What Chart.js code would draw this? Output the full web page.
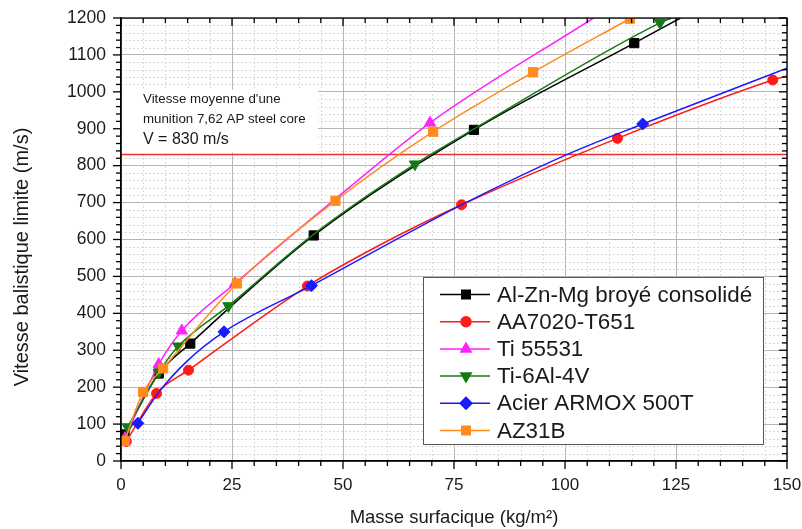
<!DOCTYPE html>
<html>
<head>
<meta charset="utf-8">
<script src="https://cdn.jsdelivr.net/npm/chart.js@4.4.0/dist/chart.umd.min.js"></script>
<style>
  body { margin: 0; background: #fff; }
  #chart { display: block; }
</style>
</head>
<body>
<canvas id="chart" width="802" height="529"></canvas>
<script>
// values: masse surfacique (kg/m²) -> vitesse limite (m/s)
// *Mass/*Speed = measured points (markers), *CurveMass/*CurveSpeed = extra points on the fitted curve
const alznmgMass = [0.8, 8.5, 15.6, 43.4, 79.5, 115.6];
const alznmgSpeed = [72, 237, 318, 611, 897, 1132];
const alznmgCurveMass = [126];
const alznmgCurveSpeed = [1200];

const aa7020Mass = [1.2, 8.0, 15.2, 42.0, 76.7, 111.8, 146.8];
const aa7020Speed = [53, 183, 246, 474, 694, 874, 1032];
const aa7020CurveMass = [58.3, 150];
const aa7020CurveSpeed = [585, 1043];

const ti55531Mass = [0.9, 8.5, 13.7, 25.7, 69.6];
const ti55531Speed = [62, 262, 353, 481, 916];
const ti55531CurveMass = [50, 106.4];
const ti55531CurveSpeed = [727, 1200];

const ti64Mass = [1.5, 8.5, 12.9, 24.2, 66.2, 121.4];
const ti64Speed = [92, 240, 311, 420, 804, 1187];
const ti64CurveMass = [43.5, 80, 124];
const ti64CurveSpeed = [615, 903, 1200];

const armoxMass = [3.8, 23.2, 42.9, 117.5];
const armoxSpeed = [102, 350, 475, 913];
const armoxCurveMass = [8.5, 15, 58.3, 76.7, 100.4, 150];
const armoxCurveSpeed = [186, 272, 576, 694, 830, 1064];

const az31bMass = [0.8, 5.0, 9.5, 26.1, 48.3, 70.3, 92.8, 114.6];
const az31bSpeed = [54, 187, 251, 481, 705, 892, 1053, 1198];

const seriesNames = ["Al-Zn-Mg broyé consolidé", "AA7020-T651", "Ti 55531", "Ti-6Al-4V", "Acier ARMOX 500T", "AZ31B"];

const threshold = 830;                 // vitesse moyenne munition 7,62 AP
const massRange = [0, 150];
const speedRange = [0, 1200];
const noteLines = ["Vitesse moyenne d'une", "munition 7,62 AP steel core", "V = 830 m/s"];
const yTitle = 'Vitesse balistique limite (m/s)';

const FONT = "'Liberation Sans', Arial, Helvetica, sans-serif";
Chart.defaults.font.family = FONT;
Chart.defaults.color = '#1a1a1a';

function points(mass, speed, curveMass, curveSpeed) {
  const pts = mass.map((m, i) => ({ x: m, y: speed[i], marker: true }));
  (curveMass || []).forEach((m, i) => pts.push({ x: m, y: curveSpeed[i], marker: false }));
  return pts.sort((a, b) => a.x - b.x);
}

function series(i, data, color, style, radius, rotation) {
  return {
    label: seriesNames[i],
    data: data,
    borderColor: color,
    backgroundColor: color,
    borderWidth: 1.5,
    pointStyle: style,
    pointRotation: rotation || 0,
    pointRadius: ctx => (ctx.raw && ctx.raw.marker ? radius : 0),
    pointBorderWidth: 1,
    cubicInterpolationMode: 'monotone',
    order: 10 - i
  };
}

const datasets = [
  series(0, points(alznmgMass, alznmgSpeed, alznmgCurveMass, alznmgCurveSpeed), '#000000', 'rect', 6.5),
  series(1, points(aa7020Mass, aa7020Speed, aa7020CurveMass, aa7020CurveSpeed), '#ff1a1a', 'circle', 5),
  series(2, points(ti55531Mass, ti55531Speed, ti55531CurveMass, ti55531CurveSpeed), '#ff22ff', 'triangle', 6.5),
  series(3, points(ti64Mass, ti64Speed, ti64CurveMass, ti64CurveSpeed), '#157a15', 'triangle', 6.5, 180),
  series(4, points(armoxMass, armoxSpeed, armoxCurveMass, armoxCurveSpeed), '#1a1aff', 'rectRot', 6),
  series(5, points(az31bMass, az31bSpeed), '#ff8a1e', 'rect', 6.5),
  {
    label: 'seuil',
    data: massRange.map(m => ({ x: m, y: threshold })),
    borderColor: '#ee2f2f',
    borderWidth: 1.5,
    pointRadius: 0,
    order: 20,
    isThreshold: true
  }
];

function line(ctx, x1, y1, x2, y2) {
  ctx.beginPath(); ctx.moveTo(x1, y1); ctx.lineTo(x2, y2); ctx.stroke();
}

const decor = {
  id: 'decor',
  beforeDatasetsDraw(chart) {
    const { ctx, chartArea: a, scales: { x, y } } = chart;
    ctx.save();
    // minor dotted grid
    ctx.strokeStyle = '#d9d9d9';
    ctx.lineWidth = 1;
    ctx.setLineDash([2, 2]);
    for (let v = 5; v < 150; v += 5) {
      if (v % 25 === 0) continue;
      const px = Math.round(x.getPixelForValue(v)) + 0.5;
      line(ctx, px, a.top, px, a.bottom);
    }
    for (let v = 20; v < 1200; v += 20) {
      if (v % 100 === 0) continue;
      const py = Math.round(y.getPixelForValue(v)) + 0.5;
      line(ctx, a.left, py, a.right, py);
    }
    ctx.setLineDash([]);
    // note box above the threshold line
    const boxBottom = y.getPixelForValue(threshold) - 2;
    ctx.fillStyle = '#ffffff';
    ctx.fillRect(a.left + 1, boxBottom - 63, 196, 63);
    ctx.fillStyle = '#1a1a1a';
    ctx.textBaseline = 'middle';
    ctx.font = '13.3px ' + FONT;
    ctx.fillText(noteLines[0], a.left + 22, boxBottom - 53);
    ctx.fillText(noteLines[1], a.left + 22, boxBottom - 33);
    ctx.font = '16px ' + FONT;
    ctx.fillText(noteLines[2], a.left + 22, boxBottom - 13);
    ctx.restore();
  },
  afterDraw(chart) {
    const { ctx, chartArea: a, scales: { x, y } } = chart;
    ctx.save();
    ctx.strokeStyle = '#000';
    ctx.lineWidth = 1.3;
    ctx.strokeRect(a.left, a.top, a.right - a.left, a.bottom - a.top);
    for (let v = 0; v <= 150; v += 5) {
      const px = x.getPixelForValue(v);
      const len = v % 25 === 0 ? 8 : 5;
      line(ctx, px, a.bottom, px, a.bottom + len);
      line(ctx, px, a.top, px, a.top + len);
    }
    for (let v = 0; v <= 1200; v += 20) {
      const py = y.getPixelForValue(v);
      const len = v % 100 === 0 ? 8 : 5;
      line(ctx, a.left - len, py, a.left, py);
      line(ctx, a.right - len, py, a.right, py);
    }

    // y axis title
    ctx.save();
    ctx.translate(22, 257);
    ctx.rotate(-Math.PI / 2);
    ctx.font = '20px ' + FONT;
    ctx.fillStyle = '#1a1a1a';
    ctx.textAlign = 'center';
    ctx.textBaseline = 'middle';
    ctx.fillText(yTitle, 0, 0);
    ctx.restore();

    // legend box in the lower right corner
    const w = 340, h = 167;
    const bx = a.right - 24 - w, by = a.bottom - 17 - h;
    ctx.fillStyle = '#fff';
    ctx.fillRect(bx, by, w, h);
    ctx.strokeStyle = '#555';
    ctx.lineWidth = 1;
    ctx.strokeRect(bx + 0.5, by + 0.5, w, h);
    ctx.font = '22.4px ' + FONT;
    ctx.textBaseline = 'middle';
    chart.data.datasets.filter(d => !d.isThreshold).forEach((d, i) => {
      const ry = by + 17.5 + i * 27.2;
      ctx.strokeStyle = d.borderColor;
      ctx.lineWidth = 1.5;
      line(ctx, bx + 17, ry, bx + 67, ry);
      ctx.fillStyle = d.backgroundColor;
      Chart.helpers.drawPoint(ctx, {
        pointStyle: d.pointStyle, radius: d.pointStyle === 'circle' ? 5 : 6,
        rotation: d.pointRotation, borderWidth: 1
      }, bx + 43, ry);
      ctx.fillStyle = '#1a1a1a';
      ctx.fillText(d.label, bx + 74, ry + 1);
    });
    ctx.restore();
  }
};

function noOverflow(s) {
  s.paddingLeft = 0; s.paddingRight = 0; s.paddingTop = 0; s.paddingBottom = 0;
}

new Chart(document.getElementById('chart'), {
  type: 'line',
  data: { datasets },
  plugins: [decor],
  options: {
    responsive: false,
    animation: false,
    layout: { padding: { top: 18, right: 15, left: 0, bottom: 0 } },
    plugins: { legend: { display: false }, tooltip: { enabled: false } },
    scales: {
      x: {
        type: 'linear',
        min: massRange[0], max: massRange[1],
        afterFit: s => { s.height = 68; noOverflow(s); },
        ticks: { stepSize: 25, font: { size: 17 }, padding: 14, color: '#1a1a1a', callback: v => String(v) },
        grid: { color: '#b5b5b5', drawTicks: false },
        border: { color: '#000', width: 1.3 },
        title: { display: true, text: 'Masse surfacique (kg/m²)', font: { size: 18.5 }, padding: { top: 0, bottom: 0 }, color: '#1a1a1a' }
      },
      y: {
        min: speedRange[0], max: speedRange[1],
        afterFit: s => { s.width = 121; noOverflow(s); },
        ticks: { stepSize: 100, font: { size: 17.5 }, padding: 15, color: '#1a1a1a', callback: v => String(v) },
        grid: { color: '#b5b5b5', drawTicks: false },
        border: { color: '#000', width: 1.3 },
        title: { display: false }
      }
    }
  }
});
</script>
</body>
</html>
